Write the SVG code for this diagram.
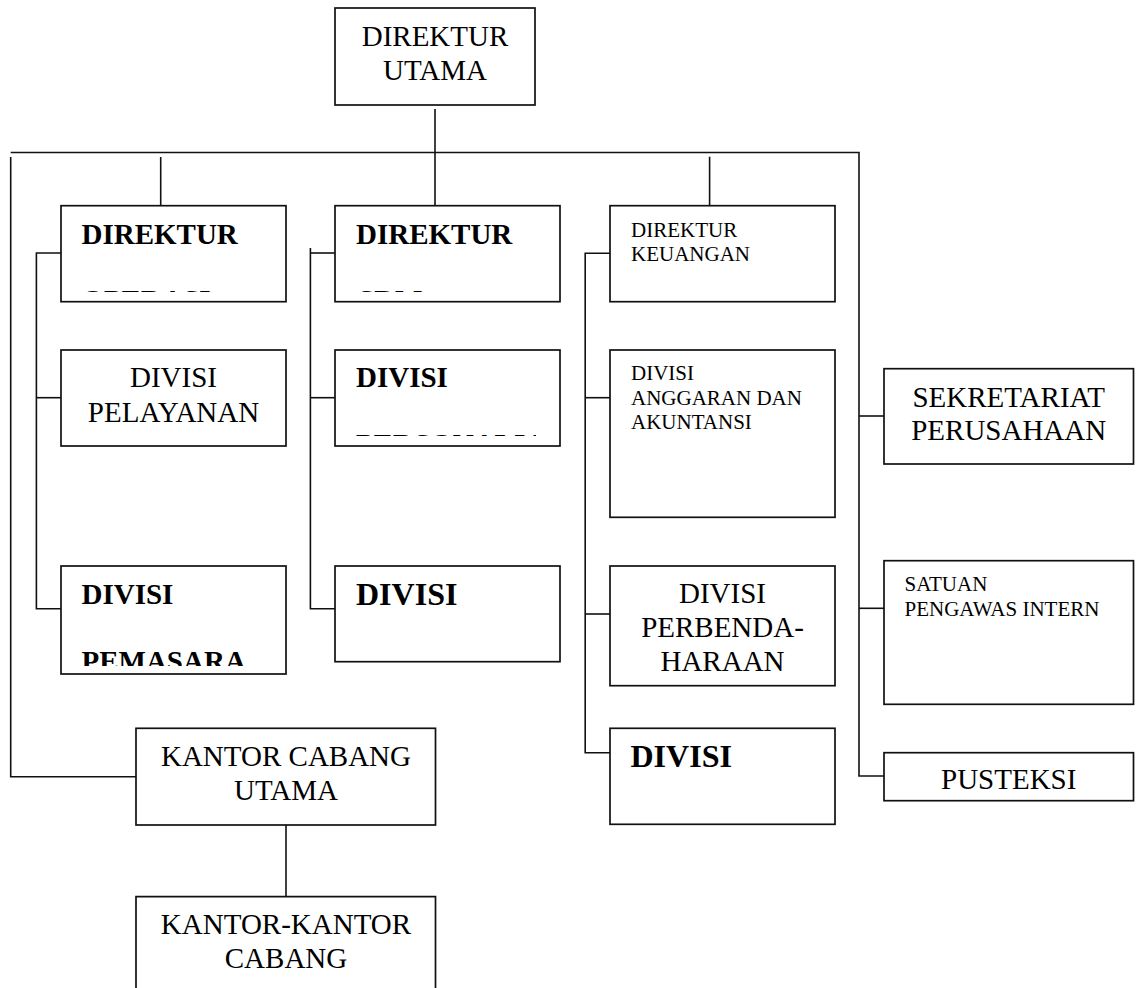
<svg xmlns="http://www.w3.org/2000/svg" width="1142" height="988" viewBox="0 0 1142 988">
<style>
  .box{fill:#fff;stroke:#111;stroke-width:1.7}
  .ln{fill:none;stroke:#111;stroke-width:1.6}
  text{font-family:"Liberation Serif","Times New Roman",serif;fill:#000}
  .n{font-size:29px}
  .b{font-size:29px;font-weight:bold}
  .bb{font-size:32px;font-weight:bold}
  .s{font-size:21px}
  .c{text-anchor:middle}
</style>
<defs>
  <clipPath id="cOps"><rect x="62" y="207" width="183" height="85"/></clipPath>
  <clipPath id="cSdm"><rect x="336" y="207" width="200" height="85"/></clipPath>
  <clipPath id="cPer"><rect x="336" y="351" width="200" height="85"/></clipPath>
  <clipPath id="cPem"><rect x="62" y="567" width="182" height="99"/></clipPath>
</defs>
<rect width="1142" height="988" fill="#fff"/>
<g id="connectors">
  <path class="ln" d="M435 109 V205.7"/>
  <path class="ln" d="M10.7 152.5 H859 V776 H884"/>
  <path class="ln" d="M10.7 157 V776.7 H136"/>
  <path class="ln" d="M160.7 157 V205.7"/>
  <path class="ln" d="M709.6 156.7 V205.7"/>
  <path class="ln" d="M61 253 H36.4 V608.7 H61"/>
  <path class="ln" d="M36.4 397.7 H61"/>
  <path class="ln" d="M310.4 248 V608.7 H335"/>
  <path class="ln" d="M310.4 253 H335"/>
  <path class="ln" d="M310.4 397.7 H335"/>
  <path class="ln" d="M610 253.3 H585.2 V752.7 H610"/>
  <path class="ln" d="M585.2 397.7 H610"/>
  <path class="ln" d="M585.2 614 H610"/>
  <path class="ln" d="M859 416 H884"/>
  <path class="ln" d="M859 608.3 H884"/>
  <path class="ln" d="M286 825 V896.7"/>
</g>
<g id="direktur-utama">
  <rect class="box" x="335" y="8" width="200" height="97"/>
  <text class="n c" x="435" y="45.7">DIREKTUR</text>
  <text class="n c" x="435" y="80">UTAMA</text>
</g>
<g id="direktur-operasi">
  <rect class="box" x="61" y="205.7" width="225" height="96"/>
  <text class="b" x="81.5" y="244">DIREKTUR</text>
  <text class="b" x="81.5" y="310" clip-path="url(#cOps)">OPERASI</text>
</g>
<g id="direktur-sdm">
  <rect class="box" x="335" y="205.7" width="225" height="96"/>
  <text class="b" x="356" y="244">DIREKTUR</text>
  <text class="b" x="358" y="310" clip-path="url(#cSdm)">SDM</text>
</g>
<g id="direktur-keuangan">
  <rect class="box" x="610" y="205.7" width="225" height="96"/>
  <text class="s" x="631" y="236.7">DIREKTUR</text>
  <text class="s" x="631" y="261">KEUANGAN</text>
</g>
<g id="divisi-pelayanan">
  <rect class="box" x="61" y="350" width="225" height="96"/>
  <text class="n c" x="173.5" y="387.3">DIVISI</text>
  <text class="n c" x="173.5" y="421.7">PELAYANAN</text>
</g>
<g id="divisi-personalia">
  <rect class="box" x="335" y="350" width="225" height="96"/>
  <text class="b" x="356" y="387.3">DIVISI</text>
  <text class="b" x="356" y="453.7" clip-path="url(#cPer)">PERSONALIA</text>
</g>
<g id="divisi-anggaran">
  <rect class="box" x="610" y="350" width="225" height="167.3"/>
  <text class="s" x="631" y="380">DIVISI</text>
  <text class="s" x="631" y="404.5">ANGGARAN DAN</text>
  <text class="s" x="631" y="429">AKUNTANSI</text>
</g>
<g id="sekretariat">
  <rect class="box" x="884" y="368.7" width="249.5" height="95.3"/>
  <text class="n c" x="1008.7" y="406.7">SEKRETARIAT</text>
  <text class="n c" x="1008.7" y="440">PERUSAHAAN</text>
</g>
<g id="divisi-pemasaran">
  <rect class="box" x="61" y="566" width="225" height="108"/>
  <text class="b" x="81.5" y="604">DIVISI</text>
  <text class="b" x="81.5" y="671" clip-path="url(#cPem)">PEMASARAN</text>
</g>
<g id="divisi-sdm">
  <rect class="box" x="335" y="566" width="225" height="95.7"/>
  <text class="bb" x="356" y="605">DIVISI</text>
</g>
<g id="divisi-perbendaharaan">
  <rect class="box" x="610" y="566" width="225" height="119.7"/>
  <text class="n c" x="722.5" y="603.3">DIVISI</text>
  <text class="n c" x="722.5" y="636.7">PERBENDA-</text>
  <text class="n c" x="722.5" y="670.7">HARAAN</text>
</g>
<g id="satuan-pengawas">
  <rect class="box" x="884" y="560.7" width="249.5" height="143.6"/>
  <text class="s" x="904.5" y="591">SATUAN</text>
  <text class="s" x="904.5" y="615.5">PENGAWAS INTERN</text>
</g>
<g id="divisi-keuangan">
  <rect class="box" x="610" y="728.3" width="225" height="96"/>
  <text class="bb" x="630.5" y="767.3">DIVISI</text>
</g>
<g id="pusteksi">
  <rect class="box" x="884" y="752.7" width="249.5" height="48"/>
  <text class="n c" x="1008.7" y="789.3">PUSTEKSI</text>
</g>
<g id="kantor-cabang-utama">
  <rect class="box" x="136" y="728.3" width="299.5" height="96.7"/>
  <text class="n c" x="286" y="765.7">KANTOR CABANG</text>
  <text class="n c" x="286" y="800">UTAMA</text>
</g>
<g id="kantor-kantor-cabang">
  <path class="box" d="M136 995 V896.7 H435.5 V995"/>
  <text class="n c" x="286" y="934">KANTOR-KANTOR</text>
  <text class="n c" x="286" y="968.3">CABANG</text>
</g>
</svg>
